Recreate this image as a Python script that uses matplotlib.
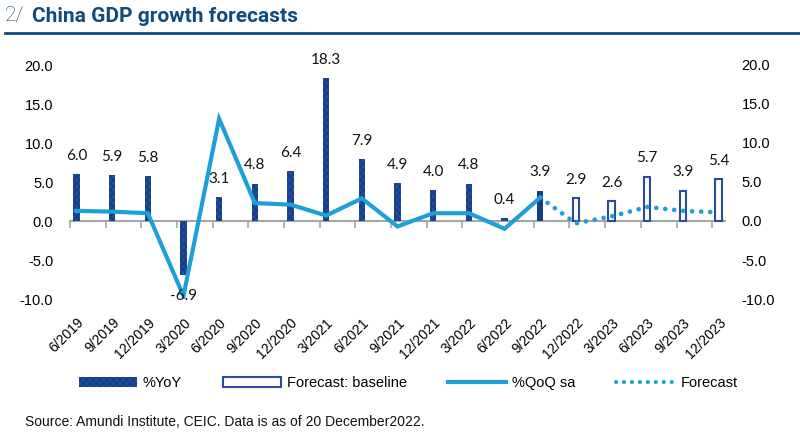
import matplotlib
matplotlib.use("Agg")

import matplotlib.pyplot as plt
import matplotlib.patches as mpatches
from matplotlib.lines import Line2D
import numpy as np

# ── Data ──────────────────────────────────────────────────────────────────────
quarters = ["6/2019", "9/2019", "12/2019", "3/2020", "6/2020", "9/2020",
            "12/2020", "3/2021", "6/2021", "9/2021", "12/2021", "3/2022",
            "6/2022", "9/2022", "12/2022", "3/2023", "6/2023", "9/2023",
            "12/2023"]
yoy_actual = [6.0, 5.9, 5.8, -6.9, 3.1, 4.8, 6.4, 18.3, 7.9, 4.9, 4.0, 4.8, 0.4, 3.9]
yoy_forecast = [2.9, 2.6, 5.7, 3.9, 5.4]
qoq_actual = [1.3, 1.2, 1.0, -9.6, 13.1, 2.3, 2.1, 0.7, 2.9, -0.7, 1.0, 1.0, -1.0, 3.0]
qoq_forecast = [3.0, -0.3, 0.6, 1.8, 1.3, 1.1]   # starts at 9/2022

# ── Style ─────────────────────────────────────────────────────────────────────
NAVY = "#1f50a0"
NAVY_DARK = "#163d86"
LINE_BLUE = "#1e9fd8"
TITLE_BLUE = "#0f4c7e"
AXIS_GREY = "#a6a6a6"
NARROW = ["Liberation Sans", "DejaVu Sans"]
LABEL_FONT = ["Lato", "DejaVu Sans"]

plt.rcParams["hatch.linewidth"] = 1.2

fig = plt.figure(figsize=(8, 4.48), dpi=100)
ax = fig.add_axes([0.0875, 1 - 299 / 448, 0.8188, (299 - 65) / 448])

n = len(quarters)
x = np.arange(n)
n_act = len(yoy_actual)
x_act = x[:n_act]
x_fc = x[n_act:]
bw = 0.18

# actual YoY bars (last actual one is solid)
ax.bar(x_act[:-1], yoy_actual[:-1], width=bw, color=NAVY, hatch="xxxxx",
       edgecolor=NAVY_DARK, linewidth=0, zorder=2)
ax.bar(x_act[-1:], yoy_actual[-1:], width=bw, color=NAVY_DARK,
       edgecolor=NAVY_DARK, linewidth=0, zorder=2)
# forecast bars (hollow)
ax.bar(x_fc, yoy_forecast, width=bw, facecolor="white",
       edgecolor="#2a4c9c", linewidth=1.5, zorder=2)

# QoQ lines
ax.plot(x_act, qoq_actual, color=LINE_BLUE, lw=3, zorder=3,
        solid_joinstyle="miter")
ax.plot(x[n_act - 1:], qoq_forecast, color=LINE_BLUE, lw=3.4, zorder=3,
        linestyle=(0, (0.01, 1.9)), dash_capstyle="round")

# data labels
for xi, v in zip(x, yoy_actual + yoy_forecast):
    if v >= 0:
        ax.annotate(f"{v:.1f}", (xi, v), xytext=(0, 8), textcoords="offset points",
                    ha="center", va="bottom", fontsize=11, family=LABEL_FONT,
                    color="#111111", zorder=5)
    else:
        ax.annotate(f"{v:.1f}", (xi, v), xytext=(0, -10), textcoords="offset points",
                    ha="center", va="top", fontsize=11, family=LABEL_FONT,
                    color="#111111", zorder=5)

# axes
ymin, ymax = -10, 20
ax.set_ylim(ymin, ymax)
ax.set_xlim(-bw, n - 1 + bw)
yt = np.arange(-10, 20.1, 5)
ax.set_yticks(yt)
ax.set_yticklabels([f"{t:.1f}" for t in yt], family=NARROW, fontsize=10.5)
ax.tick_params(axis="y", length=0, pad=12)
ax.set_xticks(x)
ax.set_xticklabels(quarters, rotation=45, ha="right", rotation_mode="anchor",
                   family=NARROW, fontsize=10)
ax.tick_params(axis="x", length=0, pad=12)
for s in ax.spines.values():
    s.set_visible(False)

# zero line with category boundary ticks
zero = ax.secondary_xaxis((0 - ymin) / (ymax - ymin))
zero.set_xticks(x - bw)
zero.set_xticklabels([])
zero.tick_params(length=5, width=1.2, color=AXIS_GREY, direction="out")
zero.spines["bottom"].set_color(AXIS_GREY)
zero.spines["bottom"].set_linewidth(1.5)

ax2 = ax.twinx()
ax2.set_ylim(ymin, ymax)
ax2.set_yticks(yt)
ax2.set_yticklabels([f"{t:.1f}" for t in yt], family=NARROW, fontsize=10.5)
ax2.tick_params(axis="y", length=0, pad=12)
for s in ax2.spines.values():
    s.set_visible(False)

# title
fig.text(0.006, 1 - 16 / 448, "2/", fontsize=15, family=["Roboto", "DejaVu Sans"],
         fontweight="light", color=TITLE_BLUE, va="center")
fig.text(0.04, 1 - 16 / 448, "China GDP growth forecasts", fontsize=15,
         family=["Roboto", "DejaVu Sans"], fontweight="bold", color=TITLE_BLUE,
         va="center")
fig.add_artist(Line2D([0.006, 1.0], [1 - 33 / 448, 1 - 33 / 448],
                      transform=fig.transFigure, color=TITLE_BLUE, lw=2))

# legend
handles = [
    mpatches.Patch(facecolor=NAVY, hatch="xxxxx", edgecolor=NAVY_DARK,
                   linewidth=0, label="%YoY"),
    mpatches.Patch(facecolor="white", edgecolor="#2a4c9c", linewidth=1.5,
                   label="Forecast: baseline"),
    Line2D([], [], color=LINE_BLUE, lw=3, label="%QoQ sa"),
    Line2D([], [], color=LINE_BLUE, lw=3, linestyle=(0, (0.01, 1.9)),
           dash_capstyle="round", label="Forecast"),
]
fig.legend(handles=handles, loc="center", bbox_to_anchor=(0.51, 1 - 383 / 448),
           ncol=4, frameon=False, handlelength=4.0, handleheight=0.7,
           columnspacing=2.8, handletextpad=0.4,
           prop={"family": NARROW, "size": 10.5})

# source
fig.text(0.031, 1 - 422 / 448,
         "Source: Amundi Institute, CEIC. Data is as of 20 December2022.",
         fontsize=10, family=NARROW, color="#111111", va="center")

fig.savefig("out.png", dpi=100)
